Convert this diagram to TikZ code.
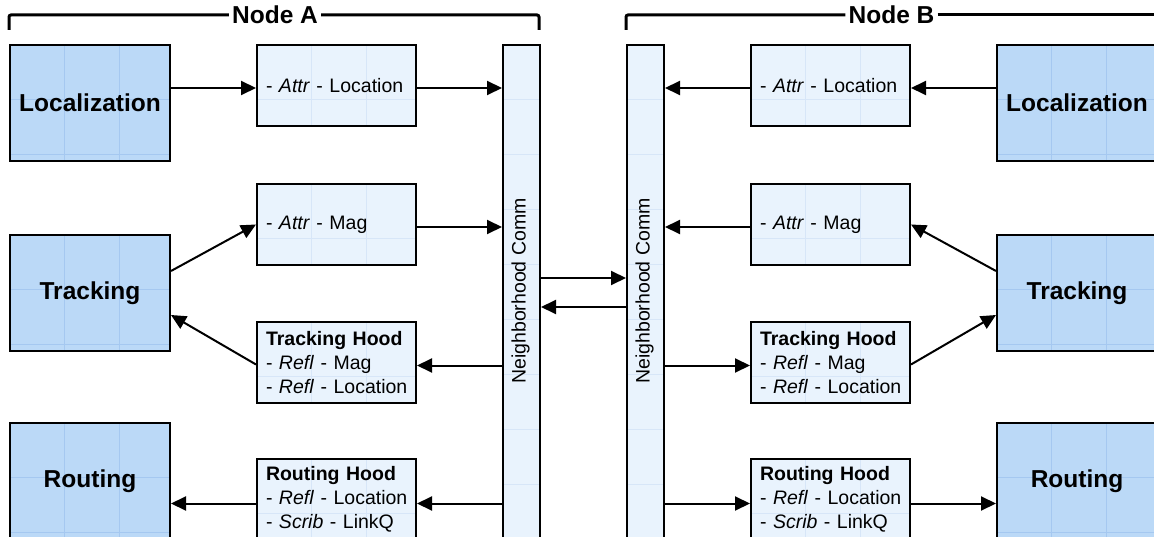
\documentclass[tikz,border=0pt]{standalone}
\usepackage{fontspec}
\setmainfont{Liberation Sans}
\usetikzlibrary{arrows.meta,calc}
\definecolor{bigfill}{RGB}{187,217,247}
\definecolor{biggrid}{RGB}{165,200,240}
\definecolor{smallfill}{RGB}{233,243,253}
\definecolor{smallgrid}{RGB}{215,230,248}
\begin{document}
\begin{tikzpicture}[x=1pt,y=-1pt,
  bigbox/.style={draw, line width=2pt, fill=bigfill, minimum width=160pt, minimum height=116pt,
    inner sep=0pt, anchor=north west, font=\fontsize{24.5}{28}\selectfont\bfseries,
    path picture={\foreach \d in {54,109}{
      \draw[biggrid,line width=0.8pt] ([xshift=\d pt]path picture bounding box.north west) -- ([xshift=\d pt]path picture bounding box.south west);
      \draw[biggrid,line width=0.8pt] ([yshift=-\d pt]path picture bounding box.north west) -- ([yshift=-\d pt]path picture bounding box.north east);}}},
  smallbox/.style={draw, line width=2pt, fill=smallfill, text width=141pt, minimum height=81pt,
    inner xsep=9pt, inner ysep=0pt, anchor=north west, align=left, font=\fontsize{19.5}{24}\selectfont,
    path picture={\foreach \d in {54,109}{
      \draw[smallgrid,line width=0.8pt] ([xshift=\d pt]path picture bounding box.north west) -- ([xshift=\d pt]path picture bounding box.south west);
      \draw[smallgrid,line width=0.8pt] ([yshift=-\d pt]path picture bounding box.north west) -- ([yshift=-\d pt]path picture bounding box.north east);}}},
  barbox/.style={draw, line width=2pt, fill=smallfill, minimum width=37pt, minimum height=500pt,
    inner sep=0pt, anchor=north west,
    path picture={\foreach \d in {54,109,164,219,274,329,384,439}{
      \draw[smallgrid,line width=0.8pt] ([yshift=-\d pt]path picture bounding box.north west) -- ([yshift=-\d pt]path picture bounding box.north east);}}},
  bartext/.style={rotate=90, font=\fontsize{19.5}{24}\selectfont, inner sep=0pt},
  arr/.style={line width=2pt, -{Triangle[length=15pt,width=14pt]}},
  bracket/.style={line width=3pt, rounded corners=2pt},
  hdr/.style={font=\fontsize{24.5}{28}\selectfont\bfseries, inner sep=3pt}
]
\useasboundingbox (0,0) rectangle (1154,537);

% brackets
\node[hdr] (hdrA) at (275,15) {Node A};
\node[hdr] (hdrB) at (891.5,15) {Node B};
\draw[bracket] (9,30) -- (9,15) -- (hdrA.west);
\draw[bracket] (hdrA.east) -- (539,15) -- (539,30);
\draw[bracket] (626,30) -- (626,15) -- (hdrB.west);
\draw[bracket] (hdrB.east) -- (1160,15);

% left big boxes
\node[bigbox] (locA) at (9,44) {Localization};
\node[bigbox] (trackA) at (9,234) {Tracking};
\node[bigbox] (routA) at (9,422) {Routing};
% right big boxes
\node[bigbox] (locB) at (996,44) {Localization};
\node[bigbox] (trackB) at (996,234) {Tracking};
\node[bigbox] (routB) at (996,422) {Routing};

% left small boxes
\node[smallbox] (attrLocA) at (256,44) {\mbox{- \textit{Attr} - Location}};
\node[smallbox] (attrMagA) at (256,183) {\mbox{- \textit{Attr} - Mag}};
\node[smallbox] (thoodA) at (256,321) {\mbox{\textbf{Tracking Hood}}\\\mbox{- \textit{Refl} - Mag}\\\mbox{- \textit{Refl} - Location}};
\node[smallbox] (rhoodA) at (256,458) {\mbox{\textbf{Routing Hood}}\\\mbox{- \textit{Refl} - Location}\\\mbox{- \textit{Scrib} - LinkQ}};
% right small boxes
\node[smallbox] (attrLocB) at (750,44) {\mbox{- \textit{Attr} - Location}};
\node[smallbox] (attrMagB) at (750,183) {\mbox{- \textit{Attr} - Mag}};
\node[smallbox] (thoodB) at (750,321) {\mbox{\textbf{Tracking Hood}}\\\mbox{- \textit{Refl} - Mag}\\\mbox{- \textit{Refl} - Location}};
\node[smallbox] (rhoodB) at (750,458) {\mbox{\textbf{Routing Hood}}\\\mbox{- \textit{Refl} - Location}\\\mbox{- \textit{Scrib} - LinkQ}};

% bars
\node[barbox] (barA) at (502,44) {};
\node[barbox] (barB) at (626,44) {};
\node[bartext] (barAtxt) at (520.5,291) {Neighborhood Comm};
\node[bartext] (barBtxt) at (644.5,291) {Neighborhood Comm};

% helper points on box sides
\coordinate (pLA) at ($(attrLocA.east)+(0,2.5)$);
\coordinate (pMA) at ($(attrMagA.east)+(0,2.5)$);
\coordinate (pTA) at ($(thoodA.east)+(0,3)$);
\coordinate (pRA) at ($(rhoodA.east)+(0,4)$);
\coordinate (pRAw) at ($(rhoodA.west)+(0,4)$);
\coordinate (pLB) at ($(attrLocB.west)+(0,2.5)$);
\coordinate (pMB) at ($(attrMagB.west)+(0,2.5)$);
\coordinate (pTB) at ($(thoodB.west)+(0,3)$);
\coordinate (pRB) at ($(rhoodB.west)+(0,4)$);
\coordinate (pRBe) at ($(rhoodB.east)+(0,4)$);

% left arrows
\draw[arr] ([yshift=15pt]locA.east) -- ($(attrLocA.west)+(0,2.5)$);
\draw[arr] (pLA) -- (pLA -| barA.west);
\draw[arr] (pMA) -- (pMA -| barA.west);
\draw[arr] ([yshift=22pt]trackA.east) -- (attrMagA.west);
\draw[arr] ($(thoodA.west)+(0,2)$) -- ([yshift=-22pt]trackA.east);
\draw[arr] (pTA -| barA.west) -- (pTA);
\draw[arr] (pRA -| barA.west) -- (pRA);
\draw[arr] (pRAw) -- (pRAw -| routA.east);

% between bars
\draw[arr] ([yshift=17pt]barA.east) -- ([yshift=17pt]barB.west);
\draw[arr] ([yshift=-12pt]barB.west) -- ([yshift=-12pt]barA.east);

% right arrows
\draw[arr] ([yshift=15pt]locB.west) -- ($(attrLocB.east)+(0,2.5)$);
\draw[arr] (pLB) -- (pLB -| barB.east);
\draw[arr] (pMB) -- (pMB -| barB.east);
\draw[arr] ([yshift=22pt]trackB.west) -- (attrMagB.east);
\draw[arr] ($(thoodB.east)+(0,2)$) -- ([yshift=-22pt]trackB.west);
\draw[arr] (pTB -| barB.east) -- (pTB);
\draw[arr] (pRB -| barB.east) -- (pRB);
\draw[arr] (pRBe) -- (pRBe -| routB.west);
\end{tikzpicture}
\end{document}
